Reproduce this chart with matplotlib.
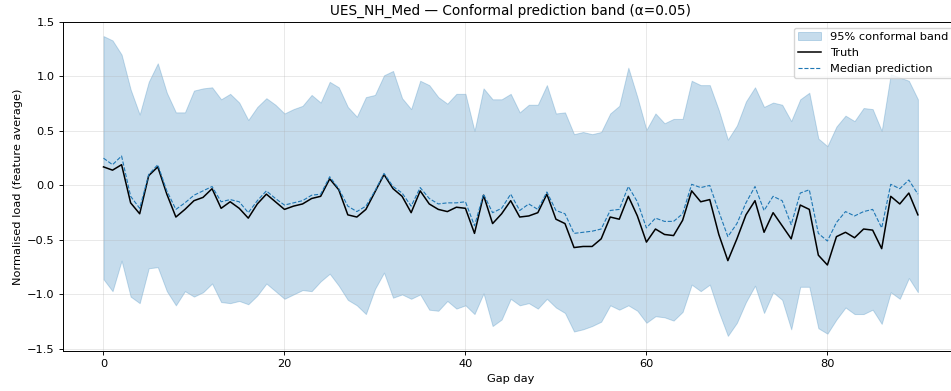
import numpy as np
import matplotlib
matplotlib.use("Agg")
import matplotlib.pyplot as plt

# =========================
# DATA (per gap day)
# =========================
gap_day = np.arange(91)

upper = [1.37, 1.33, 1.20, 0.88, 0.65, 0.95, 1.12, 0.85, 0.67, 0.67,
         0.87, 0.89, 0.90, 0.79, 0.84, 0.76, 0.60, 0.72, 0.80, 0.74,
         0.66, 0.70, 0.73, 0.83, 0.76, 0.95, 0.90, 0.72, 0.63, 0.81,
         0.83, 1.01, 1.05, 0.80, 0.70, 0.96, 0.92, 0.81, 0.75, 0.84,
         0.84, 0.50, 0.89, 0.79, 0.79, 0.84, 0.67, 0.74, 0.74, 0.92,
         0.66, 0.67, 0.47, 0.49, 0.47, 0.49, 0.66, 0.73, 1.08, 0.81,
         0.51, 0.66, 0.57, 0.61, 0.61, 0.96, 0.92, 0.92, 0.69, 0.42,
         0.55, 0.77, 0.90, 0.72, 0.76, 0.74, 0.59, 0.79, 0.85, 0.43,
         0.36, 0.54, 0.64, 0.59, 0.71, 0.70, 0.50, 1.02, 0.99, 0.96,
         0.79]

lower = [-0.86, -0.97, -0.69, -1.02, -1.08, -0.76, -0.75, -0.97, -1.10, -0.97,
         -1.02, -0.98, -0.90, -1.07, -1.08, -1.06, -1.09, -1.01, -0.90, -0.97,
         -1.04, -1.00, -0.96, -0.97, -0.88, -0.81, -0.92, -1.05, -1.10, -1.18,
         -0.95, -0.80, -1.03, -1.00, -1.04, -1.00, -1.14, -1.15, -1.06, -1.13,
         -1.10, -1.18, -0.99, -1.29, -1.23, -1.04, -1.10, -1.08, -1.13, -1.04,
         -1.12, -1.17, -1.34, -1.32, -1.29, -1.25, -1.10, -1.14, -1.10, -1.15,
         -1.26, -1.20, -1.21, -1.24, -1.16, -0.91, -0.97, -0.91, -1.16, -1.38,
         -1.26, -1.07, -0.92, -1.17, -0.98, -1.05, -1.32, -0.93, -0.93, -1.31,
         -1.36, -1.23, -1.12, -1.18, -1.18, -1.14, -1.27, -0.98, -1.04, -0.85,
         -0.98]

truth = [0.17, 0.14, 0.19, -0.16, -0.26, 0.09, 0.17, -0.08, -0.29, -0.22,
         -0.14, -0.11, -0.03, -0.21, -0.15, -0.21, -0.30, -0.17, -0.08, -0.15,
         -0.22, -0.19, -0.17, -0.12, -0.10, 0.06, -0.04, -0.27, -0.29, -0.22,
         -0.06, 0.10, -0.03, -0.10, -0.25, -0.05, -0.17, -0.22, -0.24, -0.20,
         -0.21, -0.44, -0.09, -0.35, -0.26, -0.14, -0.29, -0.28, -0.25, -0.08,
         -0.31, -0.35, -0.57, -0.56, -0.56, -0.49, -0.29, -0.31, -0.10, -0.28,
         -0.52, -0.40, -0.45, -0.46, -0.32, -0.05, -0.15, -0.13, -0.45, -0.69,
         -0.49, -0.27, -0.14, -0.43, -0.25, -0.37, -0.49, -0.18, -0.22, -0.64,
         -0.73, -0.47, -0.43, -0.48, -0.40, -0.41, -0.58, -0.10, -0.17, -0.07,
         -0.27]

median = [0.25, 0.19, 0.27, -0.10, -0.21, 0.10, 0.19, -0.05, -0.22, -0.16,
          -0.09, -0.05, -0.01, -0.15, -0.13, -0.15, -0.25, -0.14, -0.05, -0.12,
          -0.18, -0.16, -0.14, -0.09, -0.08, 0.08, -0.03, -0.19, -0.24, -0.19,
          -0.05, 0.11, -0.01, -0.07, -0.19, -0.02, -0.12, -0.17, -0.16, -0.16,
          -0.15, -0.37, -0.08, -0.25, -0.21, -0.08, -0.23, -0.17, -0.22, -0.06,
          -0.23, -0.26, -0.44, -0.43, -0.42, -0.40, -0.23, -0.22, -0.01, -0.15,
          -0.39, -0.30, -0.33, -0.33, -0.26, 0.01, -0.02, 0.00, -0.24, -0.47,
          -0.35, -0.16, -0.01, -0.23, -0.10, -0.14, -0.36, -0.07, -0.04, -0.44,
          -0.51, -0.34, -0.24, -0.28, -0.24, -0.22, -0.39, 0.01, -0.03, 0.05,
          -0.08]

# =========================
# STYLE
# =========================
plt.rcParams.update({
    "font.size": 8.2,
    "axes.linewidth": 0.7,
    "xtick.major.size": 2.9,
    "ytick.major.size": 2.9,
    "xtick.major.pad": 2.9,
    "ytick.major.pad": 2.9,
    "xtick.major.width": 0.65,
    "ytick.major.width": 0.65,
})

# =========================
# PLOT
# =========================
fig = plt.figure(figsize=(9.51, 3.91), dpi=100)
ax = fig.add_axes([0.066, 0.102, 0.942, 0.842])

ax.fill_between(gap_day, lower, upper, color="C0", alpha=0.25, lw=0.7,
                label="95% conformal band")
ax.plot(gap_day, truth, color="black", lw=1.1, label="Truth")
ax.plot(gap_day, median, color="C0", lw=0.8, ls="--", label="Median prediction")

ax.set_xlim(-4.5, 94.5)
ax.set_ylim(-1.52, 1.5)
ax.set_xlabel("Gap day", labelpad=3.3)
ax.set_ylabel("Normalised load (feature average)", labelpad=3.3)
ax.set_title("UES_NH_Med — Conformal prediction band (α=0.05)", fontsize=9.8, pad=4.9)
ax.grid(alpha=0.3, lw=0.65)
ax.legend(loc="upper right")

fig.savefig("out.png", dpi=100)
